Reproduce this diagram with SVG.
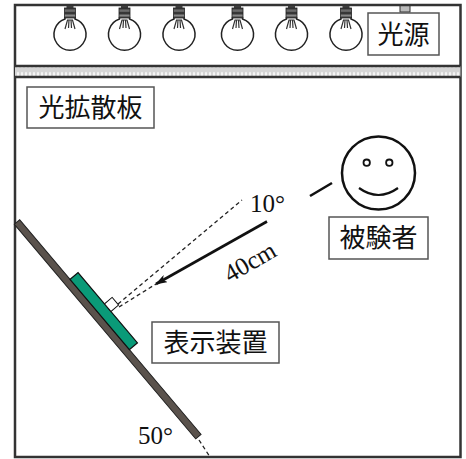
<svg xmlns="http://www.w3.org/2000/svg" width="466" height="459" viewBox="0 0 466 459">
  <style>
    .frame { fill: none; stroke: #333; stroke-width: 2.5; }
    .label-box { fill: #fff; stroke: #555; stroke-width: 1.5; }
    .jp { font-family: "Noto Sans CJK JP", "Noto Sans", sans-serif; font-size: 26px; fill: #111; text-anchor: middle; }
    .num { font-family: "Liberation Serif", "Times New Roman", serif; font-size: 25px; fill: #111; }
    .glass { fill: #fff; stroke: #222; stroke-width: 1.5; }
    .filament { fill: none; stroke: #333; stroke-width: 1.2; }
    .dash { fill: none; stroke: #222; stroke-width: 1.3; stroke-dasharray: 4 3; }
  </style>
  <defs>
    <linearGradient id="socketGrad" x1="0" y1="0" x2="0" y2="1">
      <stop offset="0" stop-color="#333"/>
      <stop offset="0.3" stop-color="#777"/>
      <stop offset="0.5" stop-color="#222"/>
      <stop offset="0.75" stop-color="#888"/>
      <stop offset="1" stop-color="#333"/>
    </linearGradient>
    <pattern id="diffuserPat" width="4" height="10" patternUnits="userSpaceOnUse">
      <rect width="4" height="10" fill="#d4d4d4"/>
      <ellipse cx="2" cy="5" rx="1.1" ry="3.2" fill="#f4f4f4"/>
    </pattern>
    <g id="bulb">
      <path class="glass" d="M-5,17 L-5,19 A16,16 0 1 0 5,19 L5,17"/>
      <path class="filament" d="M-5,29 L-2.5,20 L2.5,20 L5,29 M-1,20 L-1.5,28 M1,20 L1.5,28"/>
      <rect x="-3.5" y="5" width="7" height="3.5" fill="#444"/>
      <rect x="-5.5" y="8" width="11" height="10" fill="url(#socketGrad)" stroke="#222" stroke-width="0.8"/>
    </g>
    <marker id="arrowHead" viewBox="0 0 12 8" refX="11" refY="4" markerWidth="12" markerHeight="8" markerUnits="userSpaceOnUse" orient="auto">
      <path d="M0,0 L12,4 L0,8 L3,4 Z" fill="#111"/>
    </marker>
  </defs>

  <rect width="466" height="459" fill="#fff"/>

  <!-- light source chamber with bulbs -->
  <g id="bulbs">
    <use href="#bulb" x="70" y="0"/>
    <use href="#bulb" x="124.5" y="0"/>
    <use href="#bulb" x="179" y="0"/>
    <use href="#bulb" x="237.5" y="0"/>
    <use href="#bulb" x="291.5" y="0"/>
    <use href="#bulb" x="346" y="0"/>
    <rect x="400" y="5" width="10" height="7" fill="#bbb" stroke="#333" stroke-width="1"/>
  </g>

  <!-- enclosure -->
  <rect class="frame" x="15" y="5" width="445.5" height="452"/>

  <!-- diffuser plate -->
  <g id="diffuser">
    <rect x="15" y="66" width="445.5" height="11" fill="url(#diffuserPat)"/>
    <line x1="15" y1="66" x2="460.5" y2="66" stroke="#333" stroke-width="2.5"/>
    <line x1="15" y1="77" x2="460.5" y2="77" stroke="#333" stroke-width="2.5"/>
  </g>

  <g id="light-source-label">
    <rect class="label-box" x="368" y="13" width="71" height="42"/>
    <text class="jp" x="403.5" y="44">光源</text>
  </g>

  <g id="diffuser-label">
    <rect class="label-box" x="27" y="87" width="127" height="41"/>
    <text class="jp" x="90.5" y="117">光拡散板</text>
  </g>

  <!-- tilted board with display -->
  <g id="board" transform="translate(17,222) rotate(49.8)">
    <rect x="0" y="-3.5" width="281" height="7" fill="#5a524c" stroke="#222" stroke-width="1"/>
    <rect x="78" y="-14" width="92" height="10.5" fill="#0a9a78" stroke="#111" stroke-width="1.2"/>
    <rect x="119" y="-24" width="10" height="10" fill="#fff" stroke="#111" stroke-width="1"/>
  </g>

  <g id="display-label">
    <rect class="label-box" x="152" y="322" width="127" height="41"/>
    <text class="jp" x="215.5" y="352">表示装置</text>
  </g>

  <!-- observer -->
  <g id="observer">
    <circle cx="378.5" cy="173" r="36.5" fill="#fff" stroke="#111" stroke-width="2.5"/>
    <circle cx="366.7" cy="162.7" r="3.2" fill="none" stroke="#111" stroke-width="1.8"/>
    <circle cx="389.3" cy="162.7" r="3.2" fill="none" stroke="#111" stroke-width="1.8"/>
    <path d="M359,188 Q378.5,202 398,188" fill="none" stroke="#111" stroke-width="2.2"/>
  </g>

  <g id="observer-label">
    <rect class="label-box" x="329" y="217" width="99" height="42"/>
    <text class="jp" x="378.5" y="247">被験者</text>
  </g>

  <!-- sight lines and dimensions -->
  <g id="connectors">
    <line class="dash" x1="118" y1="304" x2="242" y2="200"/>
    <line class="dash" x1="119" y1="307" x2="156" y2="284"/>
    <line x1="267" y1="221.5" x2="156" y2="284" stroke="#111" stroke-width="2.6" marker-end="url(#arrowHead)"/>
    <line x1="310" y1="196" x2="332" y2="183" stroke="#111" stroke-width="2.6"/>
    <line class="dash" x1="199" y1="440" x2="210" y2="457"/>
  </g>

  <text class="num" x="250" y="212" font-size="26">10°</text>
  <text class="num" x="230" y="283" transform="rotate(-30 230 283)">40cm</text>
  <text class="num" x="138" y="444">50°</text>
</svg>
